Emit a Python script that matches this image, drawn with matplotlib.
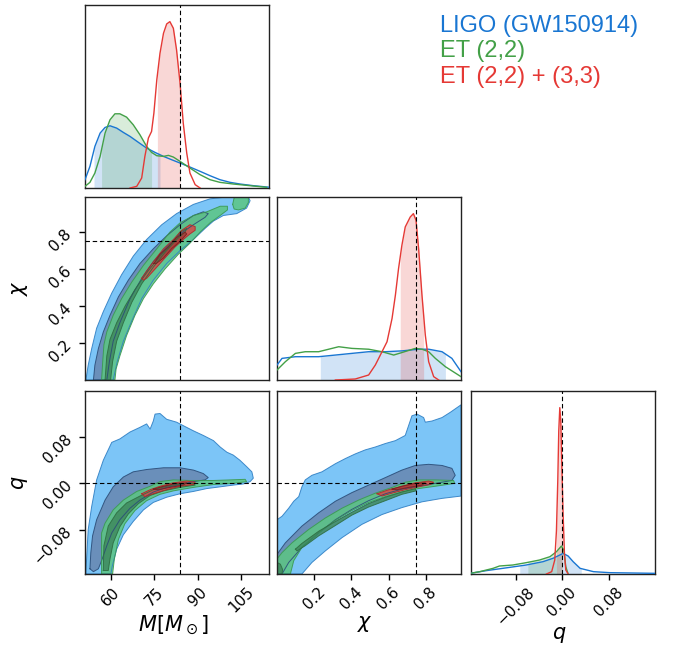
import numpy as np
import matplotlib
matplotlib.use("Agg")
import matplotlib.pyplot as plt

# ---------------------------------------------------------------
# Parameters, truth values and axis extents
# ---------------------------------------------------------------
chain_names = ["LIGO (GW150914)", "ET (2,2)", "ET (2,2) + (3,3)"]
chain_colors = ["#1976D2", "#43A047", "#E53935"]

M_TRUE = 83.9
CHI_TRUE = 0.75
Q_TRUE = 0.0

M_LIM = (51.2, 114.5)
CHI_LIM = (0.0, 0.99)
Q_LIM = (-0.157, 0.160)

M_TICKS = [60, 75, 90, 105]
M_TICKLABELS = ["60", "75", "90", "105"]
CHI_TICKS = [0.2, 0.4, 0.6, 0.8]
CHI_TICKLABELS = ["0.2", "0.4", "0.6", "0.8"]
Q_TICKS = [-0.08, 0.0, 0.08]
Q_TICKLABELS = ["\u22120.08", "0.00", "0.08"]

# ---------------------------------------------------------------
# 1D marginals (heights relative to the tallest peak in each panel)
# ---------------------------------------------------------------
ligo_m_x = [51.2, 52.9, 54.6, 56.4, 58.1, 59.8, 62.1, 64.4, 66.7, 69.6, 72.4, 75.3,
            78.2, 81.0, 83.9, 87.3, 90.8, 94.2, 97.6, 101.1, 104.5, 109.1, 113.7, 114.5]
ligo_m_h = [0.05, 0.13, 0.25, 0.33, 0.364, 0.374, 0.36, 0.334, 0.31, 0.274, 0.24, 0.214,
            0.19, 0.17, 0.15, 0.126, 0.10, 0.074, 0.05, 0.034, 0.024, 0.014, 0.006, 0.005]
et22_m_x = [51.2, 52.9, 54.6, 56.4, 58.1, 59.8, 61.5, 63.2, 65.5, 67.8, 70.1, 72.4, 74.1,
            75.9, 78.2, 79.9, 81.6, 83.9, 87.3, 90.8, 94.2, 97.6, 102.2, 106.8, 113.7]
et22_m_h = [0.01, 0.034, 0.09, 0.19, 0.33, 0.41, 0.446, 0.446, 0.426, 0.38, 0.32, 0.25, 0.214,
            0.194, 0.19, 0.196, 0.186, 0.16, 0.12, 0.08, 0.05, 0.034, 0.024, 0.016, 0.004]
et33_m_x = [66.7, 69.0, 70.7, 71.8, 73.0, 74.1, 74.9, 75.9, 77.0, 78.2, 79.3, 80.4,
            81.6, 82.7, 83.9, 85.0, 86.2, 87.3, 89.1, 90.8]
et33_m_h = [0.0, 0.01, 0.06, 0.19, 0.30, 0.34, 0.45, 0.65, 0.81, 0.93, 0.986, 1.0,
            0.96, 0.83, 0.63, 0.39, 0.21, 0.09, 0.02, 0.0]

ligo_chi_x = [0.0, 0.027, 0.099, 0.224, 0.314, 0.403, 0.493, 0.583, 0.672, 0.762,
              0.816, 0.888, 0.941, 0.99]
ligo_chi_h = [0.09, 0.13, 0.14, 0.14, 0.15, 0.16, 0.17, 0.17, 0.175, 0.185,
              0.185, 0.17, 0.13, 0.05]
et22_chi_x = [0.0, 0.045, 0.099, 0.152, 0.224, 0.278, 0.332, 0.403, 0.493, 0.565, 0.628,
              0.672, 0.744, 0.780, 0.816, 0.852, 0.906, 0.99]
et22_chi_h = [0.06, 0.11, 0.16, 0.17, 0.17, 0.185, 0.20, 0.19, 0.185, 0.17, 0.15,
              0.165, 0.19, 0.185, 0.17, 0.13, 0.08, 0.02]
et33_chi_x = [0.314, 0.421, 0.493, 0.529, 0.565, 0.592, 0.619, 0.637, 0.654, 0.672, 0.690,
              0.717, 0.734, 0.748, 0.762, 0.780, 0.798, 0.816, 0.843, 0.870]
et33_chi_h = [0.0, 0.006, 0.03, 0.09, 0.17, 0.23, 0.37, 0.51, 0.67, 0.81, 0.92,
              0.98, 1.0, 0.96, 0.79, 0.51, 0.27, 0.11, 0.02, 0.0]

ligo_q_x = [-0.158, -0.131, -0.090, -0.062, -0.033, -0.016, -0.004, 0.0017, 0.0104,
            0.019, 0.031, 0.054, 0.082, 0.160]
ligo_q_h = [0.004, 0.02, 0.04, 0.054, 0.074, 0.094, 0.114, 0.124, 0.108,
            0.074, 0.034, 0.014, 0.008, 0.004]
et22_q_x = [-0.158, -0.142, -0.119, -0.108, -0.085, -0.062, -0.039, -0.021, -0.0098,
            -0.0012, 0.0029, 0.0063, 0.0104]
et22_q_h = [0.004, 0.014, 0.034, 0.048, 0.054, 0.068, 0.084, 0.104, 0.134,
            0.168, 0.144, 0.044, 0.0]
et33_q_x = [-0.027, -0.018, -0.0127, -0.0098, -0.0075, -0.0058, -0.004, -0.0023,
            -0.0006, 0.0017, 0.004, 0.0063, 0.0104]
et33_q_h = [0.0, 0.014, 0.084, 0.26, 0.56, 0.86, 1.0, 0.92, 0.66, 0.36, 0.12, 0.024, 0.0]

# 68% credible intervals shaded under the marginals
ligo_m_ci, et22_m_ci, et33_m_ci = (54.3, 77.0), (56.9, 74.1), (76.1, 83.9)
ligo_chi_ci, et33_chi_ci = (0.233, 0.906), (0.663, 0.789)
ligo_q_ci, et22_q_ci, et33_q_ci = (-0.073, 0.033), (-0.059, -0.001), (-0.0098, 0.0006)

# ---------------------------------------------------------------
# 2D credible regions (outer and inner levels) as (x, y) outlines
# ---------------------------------------------------------------
# M - chi
ligo_mchi_outer = [(51.5, 0.0), (52.3, 0.08), (53.5, 0.17), (55.2, 0.28), (57.5, 0.37),
                   (60.4, 0.47), (63.8, 0.57), (67.8, 0.67), (72.4, 0.76), (77.6, 0.84),
                   (82.7, 0.90), (88.5, 0.95), (94.2, 0.98), (99.9, 0.99), (107.4, 0.99),
                   (108.0, 0.97), (106.8, 0.93), (103.4, 0.90), (98.8, 0.89), (95.4, 0.86),
                   (92.5, 0.82), (88.5, 0.76), (83.9, 0.70), (79.3, 0.63), (74.7, 0.54),
                   (70.7, 0.44), (67.3, 0.32), (64.4, 0.21), (62.3, 0.10), (60.9, 0.0)]
ligo_mchi_inner = [(54.1, 0.0), (54.6, 0.08), (55.8, 0.17), (57.5, 0.26), (59.8, 0.35),
                   (62.7, 0.45), (66.1, 0.54), (70.1, 0.63), (74.7, 0.71), (79.3, 0.78),
                   (83.9, 0.84), (88.5, 0.89), (91.9, 0.91), (93.6, 0.90), (92.5, 0.88),
                   (88.5, 0.84), (83.9, 0.79), (79.3, 0.72), (74.7, 0.64), (70.7, 0.55),
                   (66.7, 0.44), (63.2, 0.31), (60.9, 0.21), (59.6, 0.10), (58.7, 0.0)]
et22_mchi_outer = [(56.9, 0.0), (57.3, 0.10), (57.7, 0.19), (58.7, 0.26), (60.9, 0.35),
                   (63.8, 0.44), (67.3, 0.53), (71.3, 0.62), (75.9, 0.71), (80.4, 0.80),
                   (83.9, 0.85), (88.5, 0.89), (93.1, 0.91), (97.7, 0.94), (100.2, 0.94),
                   (100.2, 0.92), (97.7, 0.89), (94.2, 0.85), (90.8, 0.80), (87.3, 0.74),
                   (83.3, 0.68), (78.7, 0.60), (74.7, 0.52), (71.3, 0.44), (68.4, 0.35),
                   (65.5, 0.24), (63.2, 0.13), (61.9, 0.06), (61.5, 0.0)]
et22_mchi_blob = [(102.0, 0.95), (102.5, 0.985), (102.5, 0.99), (107.4, 0.99), (107.4, 0.96),
                  (106.3, 0.93), (104.0, 0.92), (102.5, 0.925)]
et22_mchi_inner = [(58.1, 0.0), (58.7, 0.13), (59.8, 0.22), (62.1, 0.31), (65.0, 0.40),
                   (68.4, 0.49), (72.4, 0.58), (77.0, 0.67), (81.0, 0.74), (83.9, 0.80),
                   (86.2, 0.82), (85.6, 0.80), (82.7, 0.76), (78.7, 0.69), (74.7, 0.61),
                   (70.7, 0.52), (67.3, 0.42), (64.4, 0.31), (62.1, 0.21), (60.7, 0.10),
                   (60.0, 0.0)]
et33_mchi_outer = [(70.7, 0.55), (72.4, 0.59), (74.7, 0.64), (78.2, 0.71), (81.6, 0.76),
                   (84.5, 0.81), (87.3, 0.84), (89.1, 0.83), (89.1, 0.81), (87.3, 0.79),
                   (85.0, 0.76), (82.2, 0.72), (78.7, 0.66), (75.3, 0.60), (72.4, 0.55),
                   (71.3, 0.54)]
et33_mchi_inner = [(74.9, 0.63), (77.0, 0.68), (79.9, 0.72), (82.7, 0.77), (85.6, 0.80),
                   (86.2, 0.79), (83.9, 0.75), (81.0, 0.71), (78.2, 0.66), (75.7, 0.63)]

# M - q
ligo_mq_outer = [(51.5, -0.157), (51.8, -0.126), (52.3, -0.080), (53.5, -0.040), (55.2, 0.006),
                 (57.5, 0.040), (60.4, 0.071), (63.2, 0.077), (66.7, 0.089), (70.1, 0.097),
                 (72.4, 0.103), (73.6, 0.094), (74.7, 0.108), (75.3, 0.120), (77.0, 0.121),
                 (79.3, 0.111), (82.7, 0.106), (85.0, 0.100), (88.5, 0.091), (91.9, 0.083),
                 (95.4, 0.074), (97.7, 0.063), (100.0, 0.054), (102.2, 0.049), (104.5, 0.040),
                 (106.8, 0.029), (108.6, 0.020), (109.1, 0.009), (108.0, 0.003), (105.7, -0.001),
                 (102.2, -0.003), (97.7, -0.006), (93.1, -0.009), (88.5, -0.014), (83.9, -0.018),
                 (79.3, -0.024), (74.7, -0.033), (71.3, -0.046), (67.8, -0.066), (64.4, -0.089),
                 (62.1, -0.114), (60.6, -0.143), (60.1, -0.157)]
ligo_mq_inner = [(52.9, -0.148), (53.2, -0.120), (53.8, -0.091), (55.2, -0.063), (58.1, -0.029),
                 (60.9, -0.006), (64.4, 0.011), (67.8, 0.020), (72.4, 0.024), (78.2, 0.027),
                 (83.9, 0.027), (88.5, 0.023), (91.9, 0.017), (93.6, 0.010), (92.5, 0.006),
                 (88.5, 0.003), (83.9, -0.002), (79.3, -0.007), (74.7, -0.015), (70.1, -0.029),
                 (66.7, -0.043), (63.2, -0.063), (60.4, -0.086), (58.7, -0.108), (56.9, -0.134),
                 (55.8, -0.148), (54.1, -0.153)]
et22_mq_outer = [(56.9, -0.157), (56.9, -0.086), (58.1, -0.069), (60.9, -0.046), (64.4, -0.029),
                 (69.0, -0.014), (73.6, -0.005), (77.0, 0.003), (81.6, 0.006), (87.3, 0.005),
                 (95.4, 0.005), (101.1, 0.006), (106.3, 0.007), (106.8, 0.003), (102.2, 0.0),
                 (95.4, -0.002), (88.5, -0.007), (81.6, -0.013), (77.0, -0.019), (72.4, -0.030),
                 (68.4, -0.047), (64.9, -0.070), (62.7, -0.097), (61.3, -0.131), (60.7, -0.157)]
et22_mq_inner = [(57.5, -0.151), (57.7, -0.108), (59.2, -0.074), (62.1, -0.051), (65.5, -0.034),
                 (70.1, -0.022), (74.7, -0.011), (79.3, -0.005), (83.9, -0.001), (88.5, 0.0),
                 (89.1, -0.003), (83.9, -0.007), (78.2, -0.013), (73.6, -0.021), (69.6, -0.035),
                 (66.1, -0.053), (63.2, -0.075), (60.9, -0.103), (59.8, -0.131), (59.2, -0.151)]
et33_mq_outer = [(70.7, -0.018), (73.6, -0.011), (77.0, -0.005), (81.6, 0.001), (86.2, 0.004),
                 (89.1, 0.002), (88.5, -0.002), (83.9, -0.005), (79.3, -0.011), (74.7, -0.018),
                 (71.8, -0.023)]
et33_mq_inner = [(74.7, -0.010), (78.2, -0.005), (82.7, 0.0), (86.2, 0.001), (85.0, -0.003),
                 (80.4, -0.007), (76.4, -0.011)]

# chi - q
ligo_chiq_outer = [(0.0, -0.157), (0.0, -0.063), (0.027, -0.057), (0.063, -0.043), (0.090, -0.031),
                   (0.117, -0.023), (0.134, -0.006), (0.152, 0.006), (0.188, 0.014), (0.242, 0.020),
                   (0.278, 0.027), (0.314, 0.034), (0.368, 0.043), (0.421, 0.051), (0.475, 0.058),
                   (0.529, 0.063), (0.583, 0.069), (0.637, 0.074), (0.690, 0.083), (0.708, 0.100),
                   (0.726, 0.117), (0.753, 0.120), (0.789, 0.114), (0.798, 0.106), (0.834, 0.108),
                   (0.888, 0.114), (0.932, 0.123), (0.99, 0.136), (0.99, -0.022), (0.888, -0.026),
                   (0.780, -0.032), (0.672, -0.042), (0.565, -0.054), (0.457, -0.071),
                   (0.350, -0.094), (0.260, -0.117), (0.188, -0.137), (0.134, -0.157)]
ligo_chiq_inner = [(0.0, -0.123), (0.045, -0.103), (0.134, -0.074), (0.224, -0.051), (0.314, -0.031),
                   (0.403, -0.016), (0.493, -0.003), (0.583, 0.010), (0.672, 0.023), (0.744, 0.031),
                   (0.816, 0.033), (0.888, 0.031), (0.941, 0.026), (0.959, 0.014), (0.941, 0.005),
                   (0.852, 0.0), (0.762, -0.005), (0.672, -0.010), (0.583, -0.018), (0.493, -0.030),
                   (0.403, -0.045), (0.314, -0.063), (0.224, -0.086), (0.134, -0.111),
                   (0.063, -0.137), (0.027, -0.157), (0.0, -0.157)]
et22_chiq_outer = [(0.0, -0.131), (0.027, -0.120), (0.081, -0.103), (0.170, -0.080), (0.260, -0.060),
                   (0.350, -0.043), (0.439, -0.029), (0.529, -0.017), (0.619, -0.007), (0.690, 0.002),
                   (0.762, 0.006), (0.852, 0.006), (0.950, 0.005), (0.956, 0.0), (0.852, -0.005),
                   (0.762, -0.009), (0.672, -0.015), (0.583, -0.023), (0.493, -0.033),
                   (0.403, -0.047), (0.314, -0.064), (0.224, -0.086), (0.134, -0.111),
                   (0.090, -0.134), (0.072, -0.157), (0.0, -0.157)]
et22_chiq_inner = [(0.099, -0.114), (0.134, -0.104), (0.224, -0.083), (0.314, -0.066), (0.403, -0.050),
                   (0.493, -0.035), (0.583, -0.024), (0.672, -0.015), (0.744, -0.009), (0.748, -0.013),
                   (0.672, -0.019), (0.583, -0.030), (0.493, -0.041), (0.403, -0.055),
                   (0.314, -0.073), (0.224, -0.091), (0.152, -0.108), (0.108, -0.117)]
et22_chiq_corner = [(0.0, -0.137), (0.018, -0.140), (0.030, -0.149), (0.027, -0.157), (0.0, -0.157)]
et33_chiq_outer = [(0.538, -0.018), (0.601, -0.011), (0.672, -0.005), (0.744, 0.001), (0.816, 0.004),
                   (0.843, 0.002), (0.825, -0.002), (0.762, -0.006), (0.690, -0.011),
                   (0.619, -0.017), (0.565, -0.022)]
et33_chiq_inner = [(0.619, -0.010), (0.672, -0.005), (0.744, 0.0), (0.798, 0.001), (0.780, -0.003),
                   (0.708, -0.007), (0.645, -0.011)]

# ---------------------------------------------------------------
# Styling
# ---------------------------------------------------------------
plt.rcParams["font.family"] = ["DejaVu Sans"]
plt.rcParams["mathtext.fontset"] = "dejavusans"

fill_styles = {
    "ligo": dict(outer="#7cc5f7", inner="#6a8fba", edge_out="#2f7fc4", edge_in="#2b4d78", alpha=1.0),
    "et22": dict(outer="#5cc683", inner="#3f8a5e", edge_out="#3a9a50", edge_in="#2e6e42", alpha=0.85),
    "et33": dict(outer="#cf504c", inner="#a83c3a", edge_out="#b02a2a", edge_in="#7a1f1f", alpha=0.9),
}

fig = plt.figure(figsize=(6.73, 6.45), dpi=100)
W, H = 673.0, 645.0
col_left = [85, 277, 471]
row_top = [5, 197, 391]
pw, ph = 184, 183


def make_axes(r, c):
    left = col_left[c] / W
    bottom = 1 - (row_top[r] + ph) / H
    return fig.add_axes([left, bottom, pw / W, ph / H])


def region(ax, pts, face, edge, alpha):
    pts = np.asarray(pts)
    ax.fill(pts[:, 0], pts[:, 1], facecolor=face, edgecolor="none", alpha=alpha, zorder=2)
    ax.plot(np.r_[pts[:, 0], pts[0, 0]], np.r_[pts[:, 1], pts[0, 1]],
            color=edge, lw=0.7, alpha=0.9, zorder=2.1)


def marginal(ax, x, h, color, ci=None):
    x = np.asarray(x, float)
    h = np.asarray(h, float)
    ax.plot(x, h, color=color, lw=1.0, zorder=3)
    if ci is not None:
        xs = np.r_[ci[0], x[(x > ci[0]) & (x < ci[1])], ci[1]]
        ax.fill_between(xs, 0, np.interp(xs, x, h), color=color, alpha=0.2, lw=0, zorder=2)


def style_axes(ax):
    for s in ax.spines.values():
        s.set_linewidth(1.0)
        s.set_color("#222222")
    ax.tick_params(direction="out", length=4, width=1, labelsize=11)


def truth_v(ax, x):
    ax.axvline(x, color="black", lw=0.8, ls=(0, (4, 2.5)), zorder=5)


def truth_h(ax, y):
    ax.axhline(y, color="black", lw=0.8, ls=(0, (4, 2.5)), zorder=5)


# --- top-left: M marginal
ax = make_axes(0, 0)
marginal(ax, ligo_m_x, ligo_m_h, chain_colors[0], ligo_m_ci)
marginal(ax, et22_m_x, et22_m_h, chain_colors[1], et22_m_ci)
marginal(ax, et33_m_x, et33_m_h, chain_colors[2], et33_m_ci)
truth_v(ax, M_TRUE)
ax.set_xlim(*M_LIM)
ax.set_ylim(0, 1.1)
ax.set_xticks([])
ax.set_yticks([])
style_axes(ax)

# --- middle-left: M vs chi
ax = make_axes(1, 0)
for key, outer, inner in [("ligo", ligo_mchi_outer, ligo_mchi_inner),
                          ("et22", et22_mchi_outer, et22_mchi_inner),
                          ("et33", et33_mchi_outer, et33_mchi_inner)]:
    st = fill_styles[key]
    region(ax, outer, st["outer"], st["edge_out"], st["alpha"])
    if key == "et22":
        region(ax, et22_mchi_blob, st["outer"], st["edge_out"], st["alpha"])
    region(ax, inner, st["inner"], st["edge_in"], st["alpha"])
truth_v(ax, M_TRUE)
truth_h(ax, CHI_TRUE)
ax.set_xlim(*M_LIM)
ax.set_ylim(*CHI_LIM)
ax.set_xticks([])
ax.set_yticks(CHI_TICKS)
ax.set_yticklabels(CHI_TICKLABELS, rotation=45)
ax.set_ylabel(r"$\chi$", fontsize=15)
ax.yaxis.set_label_coords(-0.30, 0.5)
style_axes(ax)

# --- middle-right: chi marginal
ax = make_axes(1, 1)
marginal(ax, ligo_chi_x, ligo_chi_h, chain_colors[0], ligo_chi_ci)
marginal(ax, et22_chi_x, et22_chi_h, chain_colors[1])
marginal(ax, et33_chi_x, et33_chi_h, chain_colors[2], et33_chi_ci)
truth_v(ax, CHI_TRUE)
ax.set_xlim(*CHI_LIM)
ax.set_ylim(0, 1.1)
ax.set_xticks([])
ax.set_yticks([])
style_axes(ax)

# --- bottom-left: M vs q
ax = make_axes(2, 0)
for key, outer, inner in [("ligo", ligo_mq_outer, ligo_mq_inner),
                          ("et22", et22_mq_outer, et22_mq_inner),
                          ("et33", et33_mq_outer, et33_mq_inner)]:
    st = fill_styles[key]
    region(ax, outer, st["outer"], st["edge_out"], st["alpha"])
    region(ax, inner, st["inner"], st["edge_in"], st["alpha"])
truth_v(ax, M_TRUE)
truth_h(ax, Q_TRUE)
ax.set_xlim(*M_LIM)
ax.set_ylim(*Q_LIM)
ax.set_xticks(M_TICKS)
ax.set_xticklabels(M_TICKLABELS, rotation=45)
ax.set_yticks(Q_TICKS)
ax.set_yticklabels(Q_TICKLABELS, rotation=45)
ax.set_xlabel(r"$M[M_\odot]$", fontsize=15)
ax.xaxis.set_label_coords(0.48, -0.22)
ax.set_ylabel(r"$q$", fontsize=15)
ax.yaxis.set_label_coords(-0.30, 0.5)
style_axes(ax)

# --- bottom-middle: chi vs q
ax = make_axes(2, 1)
for key, outer, inner in [("ligo", ligo_chiq_outer, ligo_chiq_inner),
                          ("et22", et22_chiq_outer, et22_chiq_inner),
                          ("et33", et33_chiq_outer, et33_chiq_inner)]:
    st = fill_styles[key]
    region(ax, outer, st["outer"], st["edge_out"], st["alpha"])
    region(ax, inner, st["inner"], st["edge_in"], st["alpha"])
    if key == "et22":
        region(ax, et22_chiq_corner, st["inner"], st["edge_in"], st["alpha"])
truth_v(ax, CHI_TRUE)
truth_h(ax, Q_TRUE)
ax.set_xlim(*CHI_LIM)
ax.set_ylim(*Q_LIM)
ax.set_xticks(CHI_TICKS)
ax.set_xticklabels(CHI_TICKLABELS, rotation=45)
ax.set_yticks([])
ax.set_xlabel(r"$\chi$", fontsize=15)
ax.xaxis.set_label_coords(0.48, -0.22)
style_axes(ax)

# --- bottom-right: q marginal
ax = make_axes(2, 2)
marginal(ax, ligo_q_x, ligo_q_h, chain_colors[0], ligo_q_ci)
marginal(ax, et22_q_x, et22_q_h, chain_colors[1], et22_q_ci)
marginal(ax, et33_q_x, et33_q_h, chain_colors[2], et33_q_ci)
truth_v(ax, Q_TRUE)
ax.set_xlim(*Q_LIM)
ax.set_ylim(0, 1.1)
ax.set_xticks(Q_TICKS)
ax.set_xticklabels(Q_TICKLABELS, rotation=45)
ax.set_yticks([])
ax.set_xlabel(r"$q$", fontsize=15)
ax.xaxis.set_label_coords(0.48, -0.28)
style_axes(ax)

# --- chain legend as coloured text
for i, (name, col) in enumerate(zip(chain_names, chain_colors)):
    fig.text(440 / W, 1 - (32 + 25.5 * i) / H, name, color=col, fontsize=17,
             family=["Liberation Sans", "DejaVu Sans"], ha="left", va="baseline")

fig.savefig("out.png", dpi=100)
